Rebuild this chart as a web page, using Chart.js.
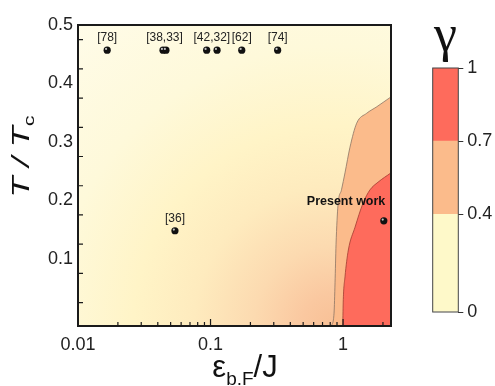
<!DOCTYPE html>
<html>
<head>
<meta charset="utf-8">
<script src="https://cdn.jsdelivr.net/npm/chart.js@4.4.1/dist/chart.umd.min.js"></script>
<style>
  html, body { margin: 0; padding: 0; background: #fff; }
  #wrap { position: relative; width: 495px; height: 386px; }
  #main { position: absolute; left: 0; top: 0; }
  #bar { position: absolute; left: 400px; top: 0; }
</style>
</head>
<body>
<div id="wrap">
  <canvas id="main" width="495" height="386"></canvas>
  <canvas id="bar" width="95" height="386"></canvas>
</div>
<script>
// ---------------- Data ----------------
const xTicks = [0.01, 0.1, 1];
const xMinorTicks = [0.02, 0.03, 0.04, 0.05, 0.06, 0.07, 0.08, 0.09,
                     0.2, 0.3, 0.4, 0.5, 0.6, 0.7, 0.8, 0.9, 2];
const yTicks = [0.1, 0.2, 0.3, 0.4, 0.5];
const yMinorTicks = [0.025, 0.075, 0.125, 0.175, 0.225, 0.275, 0.325, 0.375, 0.425, 0.475];

const gammaLevels = [0, 0.4, 0.7, 1];
const gammaColors = ['#fef9c9', '#fbbb8b', '#fe6b5c'];

// gamma = 0.4 contour (eps_bF/J, T/Tc)
const c04Eps = [0.818, 0.855, 0.870, 0.885, 0.916, 0.973, 1.034, 1.128, 1.267, 1.508, 1.794, 2.30];
const c04T   = [-0.015, 0.007, 0.059, 0.124, 0.192, 0.218, 0.247, 0.291, 0.332, 0.349, 0.360, 0.377];
// gamma = 0.7 contour
const c07Eps = [0.994, 1.004, 1.034, 1.096, 1.231, 1.414, 1.597, 1.835, 2.30];
const c07T   = [-0.015, 0.030, 0.069, 0.115, 0.154, 0.195, 0.218, 0.231, 0.247];

// literature points
const refNames = ['[78]', '[38,33]', '[42,32]', '[62]', '[74]', '[36]'];
const refEps = [[0.0166], [0.0438, 0.0461], [0.0935, 0.112], [0.172], [0.321], [0.0539]];
const refT = [0.457, 0.457, 0.457, 0.457, 0.457, 0.148];

const presentEps = [2.03];
const presentT = [0.165];

const FONT = '"Liberation Sans", Arial, sans-serif';

// ---------------- helpers ----------------
function toPts(xs, ys) {
    return xs.map(function(x, i) { return { x: x, y: ys[i] }; });
}

let refPts = [];
refEps.forEach(function(group, i) {
    group.forEach(function(x) { refPts.push({ x: x, y: refT[i] }); });
});

// ---------------- Plugins ----------------
const bgPlugin = {
    id: 'bg',
    beforeDatasetsDraw(chart) {
        const { ctx, chartArea: a, scales } = chart;
        const cx = scales.x.getPixelForValue(0.85);
        const cy = a.bottom;
        const g = ctx.createRadialGradient(cx, cy, 0, cx, cy, 400);
        g.addColorStop(0, '#f8c096');
        g.addColorStop(0.08, '#fac8a0');
        g.addColorStop(0.2, '#fcdab0');
        g.addColorStop(0.35, '#feebbe');
        g.addColorStop(0.5, '#fff4c7');
        g.addColorStop(0.7, '#fef9da');
        g.addColorStop(1, '#fffce9');
        ctx.save();
        ctx.fillStyle = g;
        ctx.fillRect(a.left, a.top, a.right - a.left, a.bottom - a.top);
        ctx.restore();
    }
};

const framePlugin = {
    id: 'frame',
    afterDatasetsDraw(chart) {
        const { ctx, chartArea: a, scales: { x, y } } = chart;
        ctx.save();
        // small highlight on the black spheres
        [0, 1].forEach(function(di) {
            chart.getDatasetMeta(di).data.forEach(function(el) {
                ctx.fillStyle = 'rgba(255,255,255,0.75)';
                ctx.beginPath();
                ctx.arc(el.x - 1.1, el.y - 1.2, 1.1, 0, Math.PI * 2);
                ctx.fill();
            });
        });
        ctx.strokeStyle = '#1a1a1a';
        ctx.lineWidth = 1.2;
        ctx.beginPath();
        xMinorTicks.forEach(function(v) {
            const px = x.getPixelForValue(v);
            ctx.moveTo(px, a.bottom); ctx.lineTo(px, a.bottom - 4);
        });
        xTicks.forEach(function(v) {
            const px = x.getPixelForValue(v);
            ctx.moveTo(px, a.bottom); ctx.lineTo(px, a.bottom - 7);
        });
        yMinorTicks.forEach(function(v) {
            const py = y.getPixelForValue(v);
            ctx.moveTo(a.left, py); ctx.lineTo(a.left + 5, py);
        });
        ctx.stroke();
        ctx.lineWidth = 2;
        ctx.strokeRect(a.left, a.top, a.right - a.left, a.bottom - a.top);
        ctx.restore();
    }
};

const labelPlugin = {
    id: 'labels',
    afterDraw(chart) {
        const { ctx, scales: { x, y } } = chart;
        ctx.save();
        ctx.fillStyle = '#222';
        ctx.textAlign = 'center';
        ctx.textBaseline = 'middle';
        ctx.font = '12px ' + FONT;
        refNames.forEach(function(name, i) {
            const xs = refEps[i].map(function(v) { return x.getPixelForValue(v); });
            const px = xs.reduce(function(s, v) { return s + v; }, 0) / xs.length;
            ctx.fillText(name, px, y.getPixelForValue(refT[i]) - 12);
        });

        // Present work
        ctx.fillStyle = '#111';
        ctx.textAlign = 'right';
        ctx.font = 'bold 12.5px ' + FONT;
        ctx.fillText('Present work', x.getPixelForValue(presentEps[0]) + 1.5, y.getPixelForValue(presentT[0]) - 19);

        // y title  T / Tc
        ctx.save();
        ctx.translate(29, 156.5);
        ctx.rotate(-Math.PI / 2);
        ctx.scale(1.45, 1);
        ctx.textAlign = 'left';
        ctx.textBaseline = 'alphabetic';
        ctx.fillStyle = '#111';
        ctx.font = 'italic 24px ' + FONT;
        const wMain = ctx.measureText('T / T').width;
        ctx.font = '15px ' + FONT;
        const wSub = ctx.measureText('c').width;
        const x0 = -(wMain + wSub) / 2;
        ctx.font = 'italic 24px ' + FONT;
        ctx.fillText('T / T', x0, 0);
        ctx.font = '15px ' + FONT;
        ctx.fillText('c', x0 + wMain, 5);
        ctx.restore();

        // x title  eps_b.F / J
        ctx.fillStyle = '#111';
        ctx.textAlign = 'left';
        ctx.textBaseline = 'alphabetic';
        ctx.font = '31px ' + FONT;
        const wEps = ctx.measureText('\u03b5').width;
        const wJ = ctx.measureText('/J').width;
        ctx.font = '19px ' + FONT;
        const wBF = ctx.measureText('b.F').width;
        let tx = 245 - (wEps + wBF + wJ) / 2;
        ctx.font = '31px ' + FONT;
        ctx.fillText('\u03b5', tx, 376.5);
        tx += wEps;
        ctx.font = '19px ' + FONT;
        ctx.fillText('b.F', tx, 384.5);
        tx += wBF;
        ctx.font = '31px ' + FONT;
        ctx.fillText('/J', tx, 376.5);
        ctx.restore();
    }
};

// ---------------- Main chart ----------------
new Chart(document.getElementById('main'), {
    type: 'scatter',
    data: {
        datasets: [{
            label: 'refs',
            data: refPts,
            pointRadius: 3.6,
            pointBackgroundColor: '#111',
            pointBorderWidth: 0,
            order: 0
        }, {
            label: 'present',
            data: toPts(presentEps, presentT),
            pointRadius: 3.6,
            pointBackgroundColor: '#111',
            pointBorderWidth: 0,
            order: 0
        }, {
            label: 'gamma 0.7',
            data: toPts(c07Eps, c07T),
            showLine: true,
            fill: 'start',
            backgroundColor: gammaColors[2],
            borderColor: '#a23b31',
            borderWidth: 0.8,
            pointRadius: 0,
            cubicInterpolationMode: 'monotone',
            order: 1
        }, {
            label: 'gamma 0.4',
            data: toPts(c04Eps, c04T),
            showLine: true,
            fill: 'start',
            backgroundColor: gammaColors[1],
            borderColor: '#8c7363',
            borderWidth: 0.8,
            pointRadius: 0,
            cubicInterpolationMode: 'monotone',
            order: 2
        }]
    },
    options: {
        responsive: false,
        animation: false,
        layout: { padding: { top: 25, right: 104, left: 0, bottom: 0 } },
        plugins: { legend: { display: false }, tooltip: { enabled: false } },
        scales: {
            x: {
                type: 'logarithmic',
                min: 0.01,
                max: 2.3,
                afterBuildTicks: function(s) { s.ticks = xTicks.map(function(v) { return { value: v }; }); },
                afterFit: function(s) { s.height = 60; },
                ticks: {
                    font: { family: FONT, size: 18 },
                    color: '#222',
                    padding: 8,
                    maxRotation: 0,
                    autoSkip: false,
                    callback: function(v) { return String(v); }
                },
                grid: { display: false, drawTicks: false },
                border: { display: false }
            },
            y: {
                min: -0.015,
                max: 0.5,
                afterBuildTicks: function(s) { s.ticks = yTicks.map(function(v) { return { value: v }; }); },
                afterFit: function(s) { s.width = 78; },
                ticks: {
                    font: { family: FONT, size: 18 },
                    color: '#222',
                    padding: 5,
                    callback: function(v) { return String(v); }
                },
                grid: { display: false, drawTicks: false },
                border: { display: false }
            }
        }
    },
    plugins: [bgPlugin, framePlugin, labelPlugin]
});

// ---------------- Colour bar ----------------
const gammaTitle = {
    id: 'gammaTitle',
    afterDraw(chart) {
        const { ctx, chartArea: a } = chart;
        ctx.save();
        ctx.strokeStyle = '#444';
        ctx.lineWidth = 1;
        ctx.strokeRect(a.left, a.top, a.right - a.left, a.bottom - a.top);
        ctx.fillStyle = '#111';
        ctx.textAlign = 'center';
        ctx.textBaseline = 'alphabetic';
        ctx.font = '52px "Liberation Serif", "DejaVu Serif", serif';
        ctx.fillText('\u03b3', (a.left + a.right) / 2, 51);
        ctx.restore();
    }
};

new Chart(document.getElementById('bar'), {
    type: 'bar',
    data: {
        labels: ['gamma'],
        datasets: gammaColors.map(function(c, i) {
            return {
                data: [gammaLevels[i + 1] - gammaLevels[i]],
                backgroundColor: c,
                borderWidth: 0,
                barPercentage: 1,
                categoryPercentage: 1
            };
        })
    },
    options: {
        responsive: false,
        animation: false,
        layout: { padding: { left: 32.7, top: 68, bottom: 74, right: 0 } },
        plugins: { legend: { display: false }, tooltip: { enabled: false } },
        scales: {
            x: { display: false, stacked: true },
            y: {
                stacked: true,
                position: 'right',
                min: 0,
                max: 1,
                afterBuildTicks: function(s) { s.ticks = gammaLevels.map(function(v) { return { value: v }; }); },
                afterFit: function(s) { s.width = 36.7; },
                ticks: {
                    font: { family: FONT, size: 18 },
                    color: '#222',
                    padding: 4,
                    callback: function(v) { return String(v); }
                },
                grid: { drawOnChartArea: false, drawTicks: true, tickLength: 5, color: '#333', lineWidth: 1 },
                border: { display: false }
            }
        }
    },
    plugins: [gammaTitle]
});
</script>
</body>
</html>
